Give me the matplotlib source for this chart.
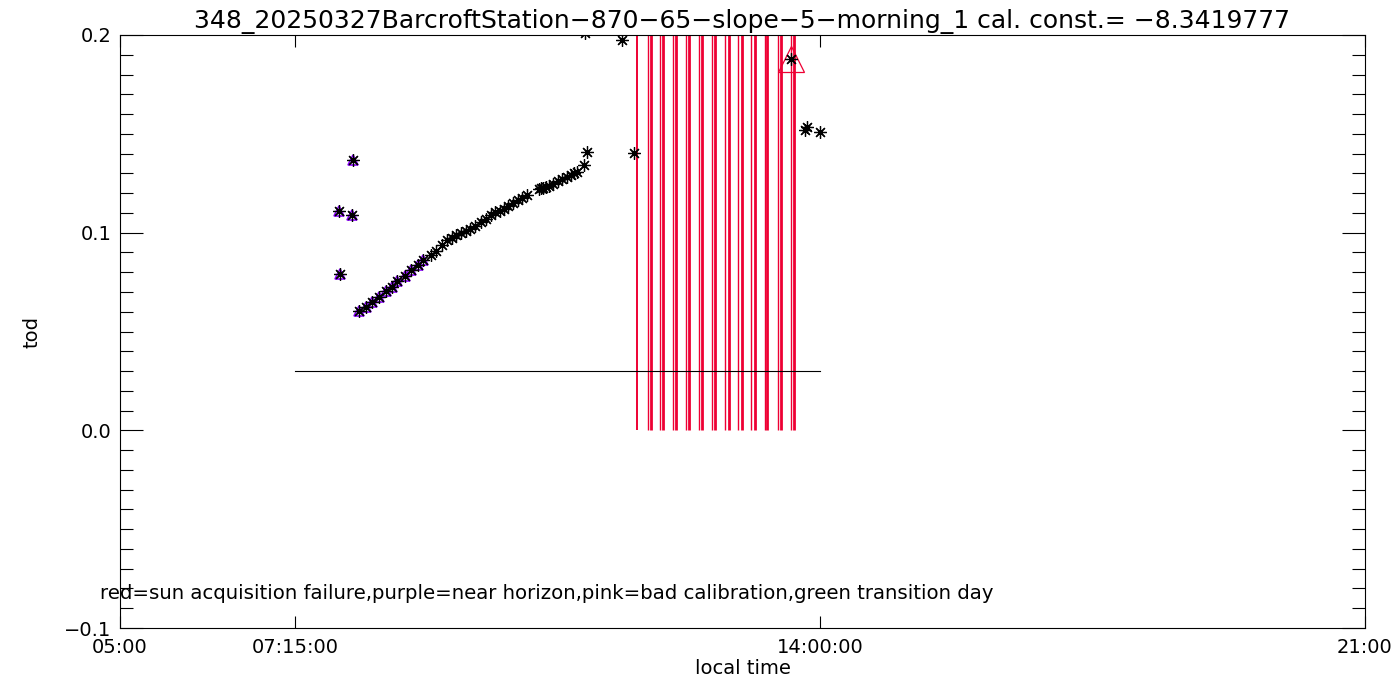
import matplotlib
matplotlib.use('Agg')
import matplotlib.pyplot as plt
from matplotlib.ticker import MultipleLocator

# observations near the horizon (purple triangles), local time in hours
horizon_time = [7.818, 7.831, 7.985, 7.998, 8.075, 8.158, 8.242, 8.329, 8.415,
                8.492, 8.564, 8.663, 8.736, 8.826, 8.898]
horizon_tod = [0.111, 0.079, 0.109, 0.137, 0.0603, 0.0626, 0.0647, 0.0674, 0.0705,
               0.0725, 0.0755, 0.0780, 0.0809, 0.0835, 0.0860]

# remaining observations
other_time = [8.997, 9.061, 9.138, 9.203, 9.267, 9.318, 9.382, 9.447, 9.498, 9.562,
              9.639, 9.704, 9.768, 9.819, 9.884, 9.935, 9.986, 10.050, 10.115, 10.166,
              10.230, 10.385, 10.411, 10.436, 10.475, 10.513, 10.565, 10.629, 10.680,
              10.745, 10.796, 10.834, 10.873, 10.963, 11.001, 10.976, 11.451, 11.606,
              13.623, 13.803, 13.829, 13.996]
other_tod = [0.0885, 0.0905, 0.0936, 0.0961, 0.0975, 0.0986, 0.1000, 0.1010, 0.1018, 0.1035,
             0.1052, 0.1070, 0.1088, 0.1104, 0.1112, 0.1120, 0.1133, 0.1150, 0.1165, 0.1177,
             0.1192, 0.1222, 0.1228, 0.1225, 0.1232, 0.1236, 0.1248, 0.1261, 0.1272,
             0.1281, 0.1292, 0.1300, 0.1306, 0.1344, 0.1410, 0.2010, 0.1973, 0.1404,
             0.188, 0.1517, 0.1534, 0.1509]

# sun acquisition failures
fail_time = [11.644, 11.786, 11.824, 11.946, 11.982, 12.113, 12.149, 12.278, 12.316,
             12.447, 12.483, 12.614, 12.650, 12.781, 12.822, 12.948, 12.990, 13.115,
             13.156, 13.283, 13.315, 13.450, 13.491, 13.617, 13.658]
flag_time = [13.623]
flag_tod = [0.188]

ref_level = 0.03
ref_span = [7.25, 14.0]

x_ticks = [5.0, 7.25, 14.0, 21.0]
x_labels = ['05:00', '07:15:00', '14:00:00', '21:00']
y_ticks = [-0.1, 0.0, 0.1, 0.2]
y_labels = ['\u22120.1', '0.0', '0.1', '0.2']

title = '348_20250327BarcroftStation\u2212870\u221265\u2212slope\u22125\u2212morning_1 cal. const.= \u22128.3419777'
note = 'red=sun acquisition failure,purple=near horizon,pink=bad calibration,green transition day'

red = '#ee0033'
purple = '#8c00ff'

fig = plt.figure(figsize=(14, 7), dpi=100)
ax = fig.add_axes([120 / 1400, 72 / 700, 1245 / 1400, 593 / 700])

# failure lines, the second of each pair drawn thicker
for i, t in enumerate(fail_time):
    lw = 1.4 if i == 0 else (1.0 if i % 2 == 1 else 2.0)
    ax.vlines(t, 0.0, 0.25, color=red, linewidth=lw)

ax.plot(ref_span, [ref_level, ref_level], color='black', linewidth=0.8)

ax.plot(horizon_time, horizon_tod, linestyle='none', marker='^', markersize=7,
        markerfacecolor='none', markeredgecolor=purple, markeredgewidth=1.2)
ax.plot(flag_time, flag_tod, linestyle='none', marker='^', markersize=19,
        markerfacecolor='none', markeredgecolor=red, markeredgewidth=0.9)

star = (8, 2, 0)
ax.plot(horizon_time + other_time, horizon_tod + other_tod, linestyle='none', marker=star,
        markersize=9, color='black', markeredgewidth=0.9)

ax.set_xlim(5, 21)
ax.set_ylim(-0.1, 0.2)
ax.set_xticks(x_ticks)
ax.set_xticklabels(x_labels)
ax.set_yticks(y_ticks)
ax.set_yticklabels(y_labels)
ax.yaxis.set_minor_locator(MultipleLocator(0.01))

ax.tick_params(axis='x', which='major', direction='in', length=8.5, width=0.8,
               top=True, bottom=True, labelsize=14, pad=7)
ax.tick_params(axis='y', which='major', direction='in', length=16.5, width=0.8,
               left=True, right=True, labelsize=14, pad=6)
ax.tick_params(axis='y', which='minor', direction='in', length=9.5, width=0.8,
               left=True, right=True)
for s in ax.spines.values():
    s.set_linewidth(0.8)

ax.set_xlabel('local time', fontsize=14, labelpad=2)
ax.set_ylabel('tod', fontsize=14)
ax.yaxis.set_label_coords(-0.063, 0.5)
ax.set_title(title, fontsize=18, pad=5)

ax.text(4.74, -0.0825, note, fontsize=14.2, va='center', ha='left', clip_on=False)

fig.savefig('out.png', dpi=100)
